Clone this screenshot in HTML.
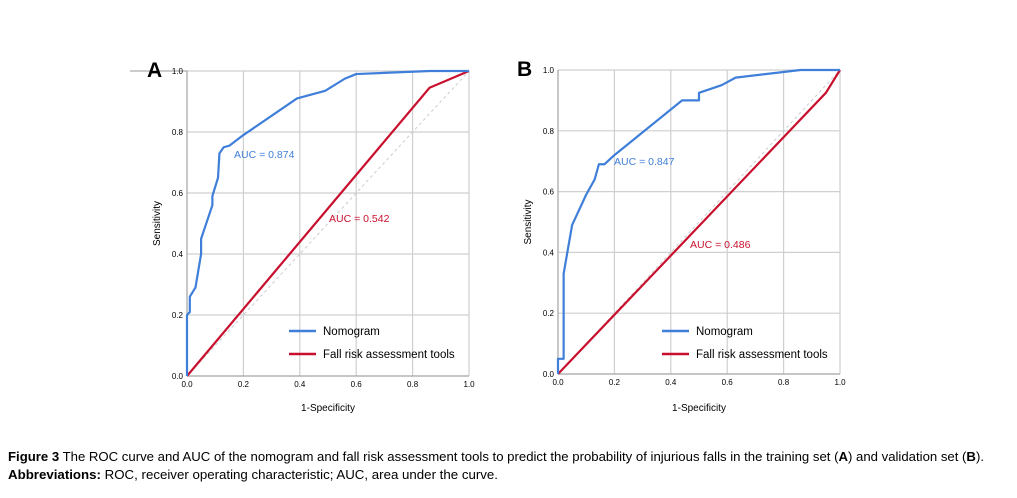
<!DOCTYPE html>
<html><head><style>
body{margin:0;background:#fff;width:1017px;height:498px;overflow:hidden}
svg{position:absolute;left:0;top:0}
</style></head><body>
<svg width="1017" height="498" xmlns="http://www.w3.org/2000/svg" font-family="Liberation Sans, sans-serif">
<g id="A"></g><g id="B"></g>
<text x="8" y="461" font-size="12.5" textLength="976" lengthAdjust="spacingAndGlyphs"><tspan font-weight="bold">Figure 3</tspan> The ROC curve and AUC of the nomogram and fall risk assessment tools to predict the probability of injurious falls in the training set (<tspan font-weight="bold">A</tspan>) and validation set (<tspan font-weight="bold">B</tspan>).</text>
<text x="8" y="479" font-size="12.5" textLength="490" lengthAdjust="spacingAndGlyphs"><tspan font-weight="bold">Abbreviations:</tspan> ROC, receiver operating characteristic; AUC, area under the curve.</text>
</svg>
<script>
function plot(id,x0,x1,y1,y0,letter,lx,blue,red,ab,ar,legx){
 const g=document.getElementById(id);
 const X=v=>x0+v*(x1-x0), Y=v=>y0-v*(y0-y1);
 let s='';
 for(let i=0;i<=5;i++){const v=i*0.2;
  s+=`<line x1="${X(v)}" y1="${y1}" x2="${X(v)}" y2="${y0}" stroke="#cfcfcf" stroke-width="1.2"/>`;
  s+=`<line x1="${x0}" y1="${Y(v)}" x2="${x1}" y2="${Y(v)}" stroke="#cfcfcf" stroke-width="1.2"/>`;
  s+=`<text x="${X(v)}" y="${y0+11}" font-size="8" text-anchor="middle">${v.toFixed(1)}</text>`;
  s+=`<text x="${x0-4}" y="${Y(v)+3}" font-size="8" text-anchor="end">${v.toFixed(1)}</text>`;
 }
 s+=`<line x1="${x0}" y1="${y1}" x2="${x0}" y2="${y0}" stroke="#999" stroke-width="1"/>`;
 s+=`<line x1="${x0}" y1="${y0}" x2="${x1}" y2="${y0}" stroke="#999" stroke-width="1"/>`;
 s+=`<line x1="${X(0)}" y1="${Y(0)}" x2="${X(1)}" y2="${Y(1)}" stroke="#ccc" stroke-dasharray="3,3" stroke-width="1"/>`;
 const p=a=>a.map(q=>X(q[0])+','+Y(q[1])).join(' ');
 s+=`<polyline points="${p(red)}" fill="none" stroke="#c8102e" stroke-width="2.2"/>`;
 s+=`<polyline points="${p(blue)}" fill="none" stroke="#3f7fd9" stroke-width="2.2" stroke-linejoin="round"/>`;
 s+=`<text x="${ab[0]}" y="${ab[1]}" font-size="10.5" fill="#3f7fd9">AUC = ${ab[2]}</text>`;
 s+=`<text x="${ar[0]}" y="${ar[1]}" font-size="10.5" fill="#c8102e">AUC = ${ar[2]}</text>`;
 s+=`<line x1="${legx}" y1="331" x2="${legx+27}" y2="331" stroke="#3f7fd9" stroke-width="2.5"/>`;
 s+=`<line x1="${legx}" y1="354" x2="${legx+27}" y2="354" stroke="#c8102e" stroke-width="2.5"/>`;
 s+=`<text x="${legx+34}" y="335" font-size="11.5">Nomogram</text>`;
 s+=`<text x="${legx+34}" y="358" font-size="11.5">Fall risk assessment tools</text>`;
 s+=`<text x="${(x0+x1)/2}" y="411" font-size="10" text-anchor="middle">1-Specificity</text>`;
 s+=`<text transform="translate(${x0-27},${(y0+y1)/2}) rotate(-90)" font-size="10" text-anchor="middle">Sensitivity</text>`;
 s+=`<text x="${lx}" y="${y1+6}" font-size="21" font-weight="bold">${letter}</text>`;
 g.innerHTML=s;
}
plot('A',187,469,71,376,'A',147,
 [[0,0],[0,0.2],[0.01,0.21],[0.01,0.26],[0.03,0.29],[0.05,0.4],[0.05,0.45],[0.09,0.56],[0.09,0.59],[0.11,0.65],[0.115,0.73],[0.13,0.75],[0.15,0.755],[0.2,0.79],[0.39,0.91],[0.49,0.935],[0.56,0.975],[0.6,0.99],[0.86,1],[1,1]],
 [[0,0],[0.86,0.945],[1,1]],[234,158,'0.874'],[329,222,'0.542'],289);
document.querySelector('#A').insertAdjacentHTML('afterbegin','<line x1="130" y1="71" x2="187" y2="71" stroke="#999"/>');
plot('B',558,840,70,374,'B',517,
 [[0,0],[0,0.05],[0.02,0.05],[0.02,0.33],[0.05,0.49],[0.1,0.59],[0.13,0.64],[0.145,0.69],[0.165,0.69],[0.2,0.72],[0.44,0.9],[0.5,0.9],[0.5,0.925],[0.58,0.95],[0.63,0.975],[0.86,1],[1,1]],
 [[0,0],[0.95,0.925],[1,1]],[614,165,'0.847'],[690,248,'0.486'],662);
</script>
</body></html>
